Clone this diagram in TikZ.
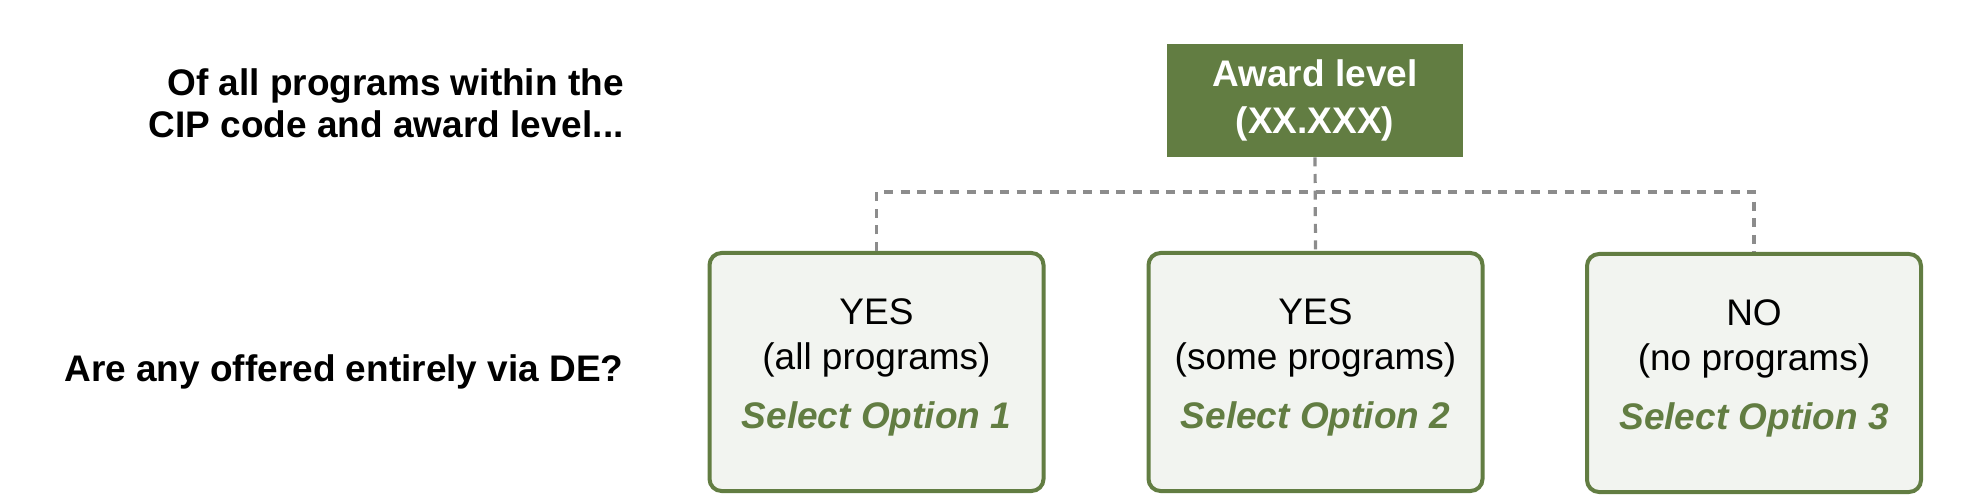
\documentclass[tikz,border=0pt]{standalone}
\usepackage{fontspec}
\setmainfont{Liberation Sans}
\usepackage{xcolor}
\usetikzlibrary{positioning}

\definecolor{awardgreen}{RGB}{98,125,66}
\definecolor{optfill}{RGB}{242,244,240}
\definecolor{busgrey}{RGB}{140,140,140}

\tikzset{
  awardbox/.style={rectangle, fill=awardgreen, text=white, font=\fontsize{18.5}{23.5}\selectfont\bfseries,
    align=center, minimum width=148pt, minimum height=56.5pt, inner sep=0pt},
  optbox/.style={rectangle, rounded corners=6pt, draw=awardgreen, line width=2pt, fill=optfill,
    font=\fontsize{18.5}{22.5}\selectfont, align=center, minimum width=167pt, minimum height=119pt, inner sep=0pt},
  question/.style={anchor=east, align=right, inner sep=0pt, font=\fontsize{18.5}{21}\selectfont\bfseries},
  busline/.style={draw=busgrey, line width=1.6pt, dash pattern=on 4.5pt off 3.8pt},
}
\newcommand{\pickopt}[1]{\\[7pt]{\color{awardgreen}\bfseries\itshape Select Option #1}\\[-14pt]\mbox{}}

\begin{document}
\begin{tikzpicture}[x=0.5pt, y=-0.5pt]
\useasboundingbox (0,0) rectangle (1969,497);

% questions on the left
\node[question] (qwithin) at (624,103) {Of all programs within the\\CIP code and award level...};
\node[question] (qoffered) at (624,372) {Are any offered entirely via DE?};

% tree
\node[awardbox] (award) at (1315,100.5) {Award level\\(XX.XXX)};
\node[optbox] (optall)  at (876.5,372) {YES\\(all programs)\pickopt{1}};
\node[optbox] (optsome) at (1315.5,372) {YES\\(some programs)\pickopt{2}};
\node[optbox] (optnone) at (1754,373) {NO\\(no programs)\pickopt{3}};

\coordinate (bus) at (1315,192);
\draw[busline] (award.south) -- (optsome.north);
\draw[busline] (optall.north) |- (bus) -| (optnone.north);
\end{tikzpicture}
\end{document}
